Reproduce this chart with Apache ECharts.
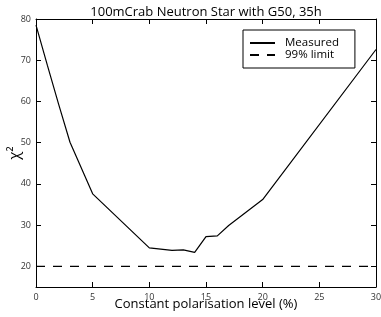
<!DOCTYPE html>
<html><head><meta charset="utf-8">
<script src="https://cdn.jsdelivr.net/npm/echarts@6/dist/echarts.min.js"></script>
<style>html,body{margin:0;padding:0;background:#fff}#c{width:381px;height:317px}#e{position:absolute;top:60px;left:60px;font:10px sans-serif;color:red;width:300px}</style>
</head><body><div id="c"></div><div id="e"></div>
<script>
window.onerror = function(m){ document.getElementById('e').textContent += m + ' | '; };
const titleText = "100mCrab Neutron Star with G50, 35h";
const xLabel = "Constant polarisation level (%)";
const yLabel = "χ²";
const polLevel = [0, 1, 2, 3, 5, 10, 12, 13, 14, 15, 16, 17, 20, 30];
const chi2 = [78.5, 68.8, 59.3, 50.1, 37.6, 24.5, 23.9, 24.0, 23.4, 27.2, 27.4, 29.9, 36.2, 72.6];
const limitX = [0, 30];
const limitY = [20, 20];
const xTicks = [0, 5, 10, 15, 20, 25, 30];
const yTicks = [20, 30, 40, 50, 60, 70, 80];

const font = "'Open Sans', sans-serif";
try {
const chart = echarts.init(document.getElementById('c'), null, {renderer: 'canvas'});
const tick = () => ({show: true, inside: true, length: 5, lineStyle: {color: '#000', width: 1}});
const line = () => ({show: true, onZero: false, lineStyle: {color: '#000', width: 1}});
chart.setOption({
  animation: false,
  backgroundColor: '#fff',
  title: {text: titleText, left: 201, textAlign: 'center', top: 1,
    textStyle: {fontFamily: font, fontSize: 13, fontWeight: 'normal', color: '#000'}},
  grid: {left: 36, right: 5, top: 19, bottom: 30, containLabel: false, outerBoundsMode: 'none'},
  legend: {
    orient: 'vertical', left: 243, top: 30,
    padding: [7, 16, 7, 6], itemGap: 0, itemWidth: 25, itemHeight: 13,
    borderColor: '#000', borderWidth: 1, backgroundColor: '#fff',
    itemStyle: {opacity: 0},
    textStyle: {fontFamily: font, fontSize: 11.5, color: '#000', padding: [0, 0, 0, 5]},
    data: ['Measured', '99% limit']
  },
  xAxis: [
    {type: 'value', min: 0, max: 30, interval: 5, position: 'bottom',
      name: xLabel, nameLocation: 'middle', nameGap: 11, nameMoveOverlap: false,
      nameTextStyle: {fontFamily: font, fontSize: 13, color: '#000'},
      axisLine: line(), axisTick: tick(), splitLine: {show: false},
      axisLabel: {fontFamily: font, fontSize: 9, color: '#333', margin: 6}},
    {type: 'value', min: 0, max: 30, interval: 5, position: 'top',
      axisLine: line(), axisTick: tick(), splitLine: {show: false},
      axisLabel: {show: false}}
  ],
  yAxis: [
    {type: 'value', min: 15, max: 80, position: 'left',
      name: yLabel, nameLocation: 'middle', nameGap: 14, nameMoveOverlap: false,
      nameTextStyle: {fontFamily: font, fontSize: 15, color: '#000'},
      axisLine: line(), splitLine: {show: false},
      axisLabel: {fontFamily: font, fontSize: 9, color: '#333', margin: 5, customValues: yTicks},
      axisTick: Object.assign(tick(), {customValues: yTicks})},
    {type: 'value', min: 15, max: 80, position: 'right',
      axisLine: line(), splitLine: {show: false},
      axisLabel: {show: false, customValues: yTicks},
      axisTick: Object.assign(tick(), {customValues: yTicks})}
  ],
  series: [
    {name: 'Measured', type: 'line', xAxisIndex: 0, yAxisIndex: 0, symbol: 'none',
      lineStyle: {color: '#000', width: 1.2}, itemStyle: {color: '#000'},
      data: polLevel.map((x, i) => [x, chi2[i]])},
    {name: '99% limit', type: 'line', xAxisIndex: 0, yAxisIndex: 0, symbol: 'none',
      lineStyle: {color: '#000', width: 1.2, type: [9, 8]}, itemStyle: {color: '#000'},
      data: limitX.map((x, i) => [x, limitY[i]])}
  ]
});
} catch (err) { document.getElementById('e').textContent += err.message; }
</script></body></html>
